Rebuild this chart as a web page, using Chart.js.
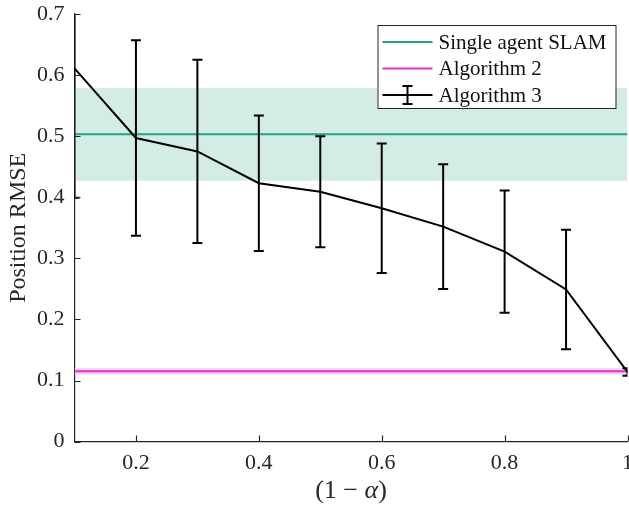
<!DOCTYPE html>
<html>
<head>
<meta charset="utf-8">
<script src="https://cdn.jsdelivr.net/npm/chart.js@4/dist/chart.umd.min.js"></script>
<style>
	html, body { margin: 0; padding: 0; background: #fff; overflow: hidden; }
	#wrap { width: 641px; height: 509px; }
</style>
</head>
<body>
<div id="wrap"><canvas id="chart" width="641" height="509"></canvas></div>
<script>
/* Position RMSE vs (1 - alpha) -- error bar chart */

const X_VALUES = [0.1, 0.2, 0.3, 0.4, 0.5, 0.6, 0.7, 0.8, 0.9, 1.0];
const ALG3_MEAN = [0.611, 0.497, 0.475, 0.423, 0.409, 0.382, 0.352, 0.311, 0.249, 0.114];
const ALG3_ERR = [0.212, 0.160, 0.150, 0.111, 0.091, 0.106, 0.102, 0.100, 0.098, 0.006];

const SLAM_MEAN = 0.503;
const SLAM_BAND = [0.427, 0.579];
const ALG2_MEAN = 0.115;
const ALG2_BAND = [0.110, 0.120];

const X_TICKS = [0.2, 0.4, 0.6, 0.8, 1];
const Y_TICKS = [0, 0.1, 0.2, 0.3, 0.4, 0.5, 0.6, 0.7];

const LABELS = ["Single agent SLAM", "Algorithm 2", "Algorithm 3"];

const COLORS = {
	slam: "#22a383",
	slamBand: "#d3ece6",
	alg2: "#d434d4",
	alg2Band: "#f7cdf7",
	alg3: "#000000",
	axis: "#262626",
};

const FONT = "'Liberation Serif', 'DejaVu Serif', serif";

const flat = (y) => X_VALUES.map(x => ({ x: x, y: y }));

// error bars for datasets that carry an `errors` array
const errorBarPlugin = {
	id: "errorBars",
	afterDatasetsDraw(chart) {
		const { ctx, chartArea, scales } = chart;
		ctx.save();
		ctx.beginPath();
		ctx.rect(chartArea.left, chartArea.top, chartArea.width, chartArea.height);
		ctx.clip();
		chart.data.datasets.forEach(ds => {
			if (!ds.errors) return;
			ctx.strokeStyle = ds.borderColor;
			ctx.lineWidth = 2;
			ds.data.forEach((p, i) => {
				const e = ds.errors[i];
				const x = scales.x.getPixelForValue(p.x);
				const yTop = scales.y.getPixelForValue(p.y + e);
				const yBot = scales.y.getPixelForValue(p.y - e);
				ctx.beginPath();
				ctx.moveTo(x, yTop); ctx.lineTo(x, yBot);
				ctx.moveTo(x - 5, yTop); ctx.lineTo(x + 5, yTop);
				ctx.moveTo(x - 5, yBot); ctx.lineTo(x + 5, yBot);
				ctx.stroke();
			});
		});
		ctx.restore();
	},
};

// inward ticks, titles and legend box (MATLAB look)
const decorPlugin = {
	id: "decor",
	afterDraw(chart) {
		const { ctx, chartArea, scales } = chart;
		ctx.save();
		ctx.strokeStyle = COLORS.axis;
		ctx.lineWidth = 1.2;
		ctx.beginPath();
		X_TICKS.forEach(v => {
			const x = Math.round(scales.x.getPixelForValue(v)) + 0.5;
			ctx.moveTo(x, chartArea.bottom);
			ctx.lineTo(x, chartArea.bottom - 6);
		});
		Y_TICKS.forEach(v => {
			const y = Math.round(scales.y.getPixelForValue(v)) + 0.5;
			ctx.moveTo(chartArea.left, y);
			ctx.lineTo(chartArea.left + 6, y);
		});
		ctx.stroke();

		// axis titles
		ctx.fillStyle = COLORS.axis;
		ctx.textBaseline = "middle";
		const parts = [
			{ t: "(1 \u2212 ", f: "26px " + FONT },
			{ t: "\u03b1", f: "italic 26px " + FONT },
			{ t: ")", f: "26px " + FONT },
		];
		let total = 0;
		parts.forEach(p => { ctx.font = p.f; p.w = ctx.measureText(p.t).width; total += p.w; });
		let x0 = (chartArea.left + chartArea.right) / 2 - total / 2;
		ctx.textAlign = "left";
		parts.forEach(p => { ctx.font = p.f; ctx.fillText(p.t, x0, chart.height - 18); x0 += p.w; });

		ctx.save();
		ctx.translate(19, (chartArea.top + chartArea.bottom) / 2);
		ctx.rotate(-Math.PI / 2);
		ctx.textAlign = "center";
		ctx.font = "24px " + FONT;
		ctx.fillText("Position RMSE", 0, 0);
		ctx.restore();

		// legend
		const boxW = 238, boxH = 83;
		const bx = chartArea.right - 12 - boxW, by = chartArea.top + 11;
		ctx.fillStyle = "#fff";
		ctx.fillRect(bx, by, boxW, boxH);
		ctx.strokeStyle = COLORS.axis;
		ctx.lineWidth = 1;
		ctx.strokeRect(bx + 0.5, by + 0.5, boxW, boxH);
		const rowColors = [COLORS.slam, COLORS.alg2, COLORS.alg3];
		ctx.font = "21px " + FONT;
		ctx.textAlign = "left";
		LABELS.forEach((lab, i) => {
			const y = by + 17 + i * 26.5;
			ctx.strokeStyle = rowColors[i];
			ctx.lineWidth = 2;
			ctx.beginPath();
			ctx.moveTo(bx + 5, y); ctx.lineTo(bx + 55, y);
			if (i === 2) {
				ctx.moveTo(bx + 30, y - 9); ctx.lineTo(bx + 30, y + 9);
				ctx.moveTo(bx + 25, y - 9); ctx.lineTo(bx + 35, y - 9);
				ctx.moveTo(bx + 25, y + 9); ctx.lineTo(bx + 35, y + 9);
			}
			ctx.stroke();
			ctx.fillStyle = "#111";
			ctx.fillText(lab, bx + 61, y + 1);
		});
		ctx.restore();
	},
};

new Chart(document.getElementById("chart"), {
	type: "line",
	data: {
		datasets: [
			{
				label: LABELS[2],
				data: X_VALUES.map((x, i) => ({ x: x, y: ALG3_MEAN[i] })),
				errors: ALG3_ERR,
				borderColor: COLORS.alg3,
				borderWidth: 2,
				pointRadius: 0,
				tension: 0,
				order: 0,
			},
			{
				label: LABELS[0],
				data: flat(SLAM_MEAN),
				borderColor: COLORS.slam,
				borderWidth: 2,
				pointRadius: 0,
				order: 1,
			},
			{
				label: LABELS[1],
				data: flat(ALG2_MEAN),
				borderColor: COLORS.alg2,
				borderWidth: 2,
				pointRadius: 0,
				order: 1,
			},
			{
				label: "slam band",
				data: flat(SLAM_BAND[1]),
				borderWidth: 0,
				pointRadius: 0,
				backgroundColor: COLORS.slamBand,
				fill: { value: SLAM_BAND[0] },
				order: 2,
			},
			{
				label: "alg2 band",
				data: flat(ALG2_BAND[1]),
				borderWidth: 0,
				pointRadius: 0,
				backgroundColor: COLORS.alg2Band,
				fill: { value: ALG2_BAND[0] },
				order: 2,
			},
		],
	},
	options: {
		responsive: false,
		animation: false,
		layout: { padding: { left: 27, top: 14, right: 0, bottom: 25 } },
		plugins: {
			legend: { display: false },
			tooltip: { enabled: false },
		},
		scales: {
			x: {
				type: "linear",
				min: 0.1,
				max: 1,
				afterBuildTicks: s => { s.ticks = X_TICKS.map(v => ({ value: v })); },
				ticks: {
					color: COLORS.axis,
					font: { family: FONT, size: 22 },
					padding: 8,
					maxRotation: 0,
					autoSkip: false,
					callback: v => String(+v.toFixed(1)),
				},
				grid: { display: false, drawTicks: false },
				border: { display: true, color: COLORS.axis, width: 1.2 },
			},
			y: {
				min: 0,
				max: 0.7,
				afterBuildTicks: s => { s.ticks = Y_TICKS.map(v => ({ value: v })); },
				afterFit: s => { s.paddingTop = 0; },
				ticks: {
					color: COLORS.axis,
					font: { family: FONT, size: 22 },
					padding: 10,
					autoSkip: false,
					callback: v => String(+v.toFixed(1)),
				},
				grid: { display: false, drawTicks: false },
				border: { display: true, color: COLORS.axis, width: 1.2 },
			},
		},
	},
	plugins: [errorBarPlugin, decorPlugin],
});
</script>
</body>
</html>
